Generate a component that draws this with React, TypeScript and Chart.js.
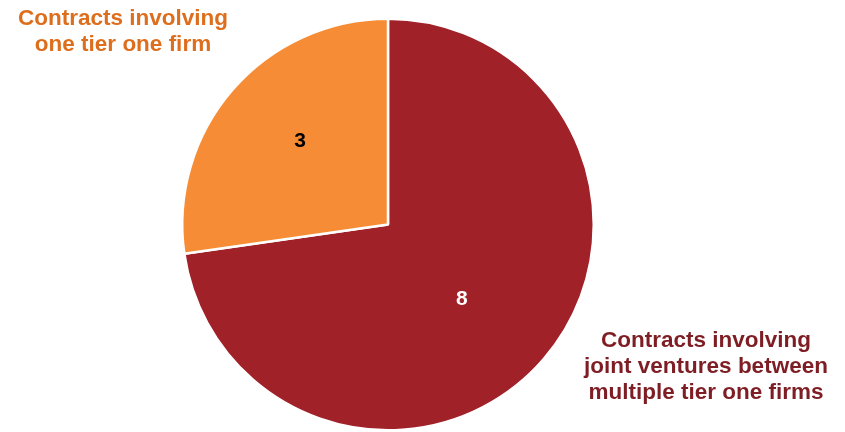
import React, { useEffect, useRef } from "react";
import { Chart, registerables } from "chart.js";

Chart.register(...registerables);

const categories = [
  "Contracts involving joint ventures between multiple tier one firms",
  "Contracts involving one tier one firm",
];
const values = [8, 3];
const sliceColors = ["#A02128", "#F68D36"];
const valueColors = ["#FFFFFF", "#000000"];
const outerLabelLines = [
  ["Contracts involving", "joint ventures between", "multiple tier one firms"],
  ["Contracts involving", "one tier one firm"],
];
const outerLabelColors = ["#7E1E24", "#DD6E1E"];

const labelPlugin = {
  id: "pieLabels",
  afterDraw(chart: any) {
    const ctx = chart.ctx;
    const meta = chart.getDatasetMeta(0);
    const arc0 = meta.data[0];
    if (!arc0) return;
    const cx = arc0.x;
    const cy = arc0.y;
    const r = arc0.outerRadius;
    const valueOffsets = [
      [0.359, 0.362],
      [-0.427, -0.405],
    ];
    ctx.save();
    ctx.textAlign = "center";
    ctx.textBaseline = "middle";
    ctx.font = "bold 21px 'Liberation Sans', Arial, sans-serif";
    values.forEach((v, i) => {
      ctx.fillStyle = valueColors[i];
      ctx.fillText(String(v), cx + valueOffsets[i][0] * r, cy + valueOffsets[i][1] * r);
    });
    ctx.font = "bold 22.5px 'Liberation Sans', Arial, sans-serif";
    const anchors = [
      [706, 341],
      [123, 19],
    ];
    outerLabelLines.forEach((lines, i) => {
      ctx.fillStyle = outerLabelColors[i];
      lines.forEach((line, j) => {
        ctx.fillText(line, anchors[i][0], anchors[i][1] + j * 26);
      });
    });
    ctx.restore();
  },
};

export default function App() {
  const ref = useRef<HTMLCanvasElement>(null);
  useEffect(() => {
    if (!ref.current) return;
    const chart = new Chart(ref.current, {
      type: "pie",
      data: {
        labels: categories,
        datasets: [
          {
            data: values,
            backgroundColor: sliceColors,
            borderColor: "#FFFFFF",
            borderWidth: 2.5,
          },
        ],
      },
      options: {
        animation: false,
        responsive: false,
        maintainAspectRatio: false,
        layout: { padding: { left: 181, right: 250, top: 17, bottom: 0 } },
        plugins: {
          legend: { display: false },
          tooltip: { enabled: false },
        },
      },
      plugins: [labelPlugin],
    });
    return () => chart.destroy();
  }, []);
  return (
    <div style={{ position: "fixed", left: 0, top: 0, width: 845, height: 432, background: "#fff" }}>
      <canvas ref={ref} width={845} height={432} style={{ width: 845, height: 432 }} />
    </div>
  );
}
